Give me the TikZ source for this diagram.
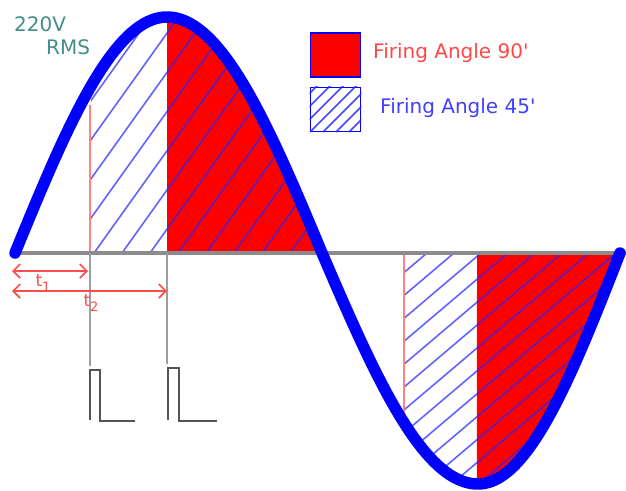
\documentclass[tikz,border=0pt]{standalone}
\usepackage{fontspec}
\setmainfont{DejaVu Sans}
\usetikzlibrary{arrows.meta}
\definecolor{wave}{rgb}{0,0,1}
\definecolor{fillred}{rgb}{1,0,0}
\definecolor{hatchblue}{rgb}{0.15,0.15,1}
\definecolor{axisgray}{rgb}{0.55,0.55,0.55}
\definecolor{thingray}{rgb}{0.62,0.62,0.62}
\definecolor{pulsegray}{rgb}{0.33,0.33,0.33}
\definecolor{arrred}{rgb}{1,0.3,0.3}
\definecolor{txtred}{rgb}{1,0.28,0.28}
\definecolor{txtblue}{rgb}{0.25,0.25,1}
\definecolor{txtteal}{rgb}{0.27,0.55,0.55}
\begin{document}
\begin{tikzpicture}[x=1pt,y=-1pt,
  wavestyle/.style={draw=wave,line width=11.5pt,line cap=round,line join=round},
  hatchline/.style={draw=hatchblue,line width=1.6pt,opacity=0.72},
  firingline/.style={draw=arrred!70!white,line width=1.2pt},
  guide/.style={draw=thingray,line width=1.5pt},
  pulse/.style={draw=pulsegray,line width=2.8pt,line join=miter},
  tarrow/.style={draw=arrred,line width=1.7pt,{Straight Barb[length=7pt,width=14pt]}-{Straight Barb[length=7pt,width=14pt]}},
  lbl/.style={inner sep=0pt,anchor=west,font=\fontsize{20pt}{24pt}\selectfont},
  tlbl/.style={inner sep=0pt,text=arrred,font=\fontsize{17pt}{19pt}\selectfont},
  samples=40]
\useasboundingbox (0,0) rectangle (626,490);

% red fills
\fill[fillred] (167,253) -- plot[domain=90:180,variable=\t] ({167+155*(\t-90)/90},{253-236*sin(\t)}) -- cycle;
\fill[fillred] (477,253) -- plot[domain=269.4:270,variable=\t] ({322+156*(\t-180)/90},{253-231*sin(\t)})
   -- plot[domain=270:360,variable=\t] ({478+142*(\t-270)/90},{253-231*sin(\t)}) -- cycle;

% hatching, positive half
\begin{scope}
\clip (90,253) -- plot[domain=45:90,variable=\t] ({15+152*\t/90},{253-236*sin(\t)})
   -- plot[domain=90:180,variable=\t] ({167+155*(\t-90)/90},{253-236*sin(\t)}) -- cycle;
\foreach \k in {-6,...,10} \draw[hatchline] (94+28*\k,253) -- ++(200,-280);
\end{scope}
% hatching, negative half
\begin{scope}
\clip (404,253) -- plot[domain=227.3:270,variable=\t] ({322+156*(\t-180)/90},{253-231*sin(\t)})
   -- plot[domain=270:360,variable=\t] ({478+142*(\t-270)/90},{253-231*sin(\t)}) -- cycle;
\foreach \k in {-2,...,13} \draw[hatchline] (427+27*\k,253) -- ++(-330,280);
\end{scope}

% firing-angle lines
\coordinate (fa1) at (90,253);
\coordinate (fa1top) at (90,105);
\coordinate (fa2) at (404,253);
\coordinate (fa2bot) at (404,413);
\draw[firingline] (fa1) -- (fa1top);
\draw[firingline] (fa2) -- (fa2bot);

% axis
\coordinate (axL) at (14,253);
\coordinate (axR) at (626,253);
\draw[draw=axisgray,line width=4pt] (axL) -- (axR);

% guide lines to pulses
\coordinate (g1a) at (90,253);
\coordinate (g1b) at (90,366);
\coordinate (g2a) at (167,253);
\coordinate (g2b) at (167,364);
\draw[guide] (g1a) -- (g1b);
\draw[guide] (g2a) -- (g2b);

% pulses
\draw[pulse] (90,420) -- (90,370) -- (100,370) -- (100,421) -- (135,421);
\draw[pulse] (168,420) -- (168,368) -- (179,368) -- (179,421) -- (217,421);

% sine wave
\draw[wavestyle] plot[domain=0:90,variable=\t] ({15+152*\t/90},{253-236*sin(\t)})
  -- plot[domain=90:180,variable=\t] ({167+155*(\t-90)/90},{253-236*sin(\t)})
  -- plot[domain=180:270,variable=\t] ({322+156*(\t-180)/90},{253-231*sin(\t)})
  -- plot[domain=270:360,variable=\t] ({478+142*(\t-270)/90},{253-231*sin(\t)});

% time arrows
\coordinate (t1s) at (12,271);
\coordinate (t1e) at (88,271);
\coordinate (t2s) at (12,291);
\coordinate (t2e) at (167,291);
\draw[tarrow] (t1s) -- (t1e);
\draw[tarrow] (t2s) -- (t2e);
\node[tlbl] (t1) at (43,283) {t\raisebox{-5pt}{\fontsize{13pt}{14pt}\selectfont 1}};
\node[tlbl] (t2) at (91,303) {t\raisebox{-5pt}{\fontsize{13pt}{14pt}\selectfont 2}};

% voltage label
\node[lbl,text=txtteal] (v220) at (14,24) {220V};
\node[lbl,text=txtteal] (rms) at (46,47) {RMS};

% legend
\node[draw=wave,line width=1.8pt,fill=fillred,minimum width=50pt,minimum height=44pt,inner sep=0pt] (leg1) at (335.5,55) {};
\node[draw=wave,line width=1.8pt,minimum width=50pt,minimum height=44pt,inner sep=0pt] (leg2) at (335.5,109.5) {};
\begin{scope}
\clip (leg2.south west) rectangle (leg2.north east);
\foreach \k in {-5,...,5} \draw[hatchline,opacity=0.85] (310+13*\k,132) -- ++(50,-50);
\end{scope}
\node[lbl,text=txtred] (l90) at (373,53) {Firing Angle 90\textquotesingle};
\node[lbl,text=txtblue] (l45) at (380,108) {Firing Angle 45\textquotesingle};
\end{tikzpicture}
\end{document}
